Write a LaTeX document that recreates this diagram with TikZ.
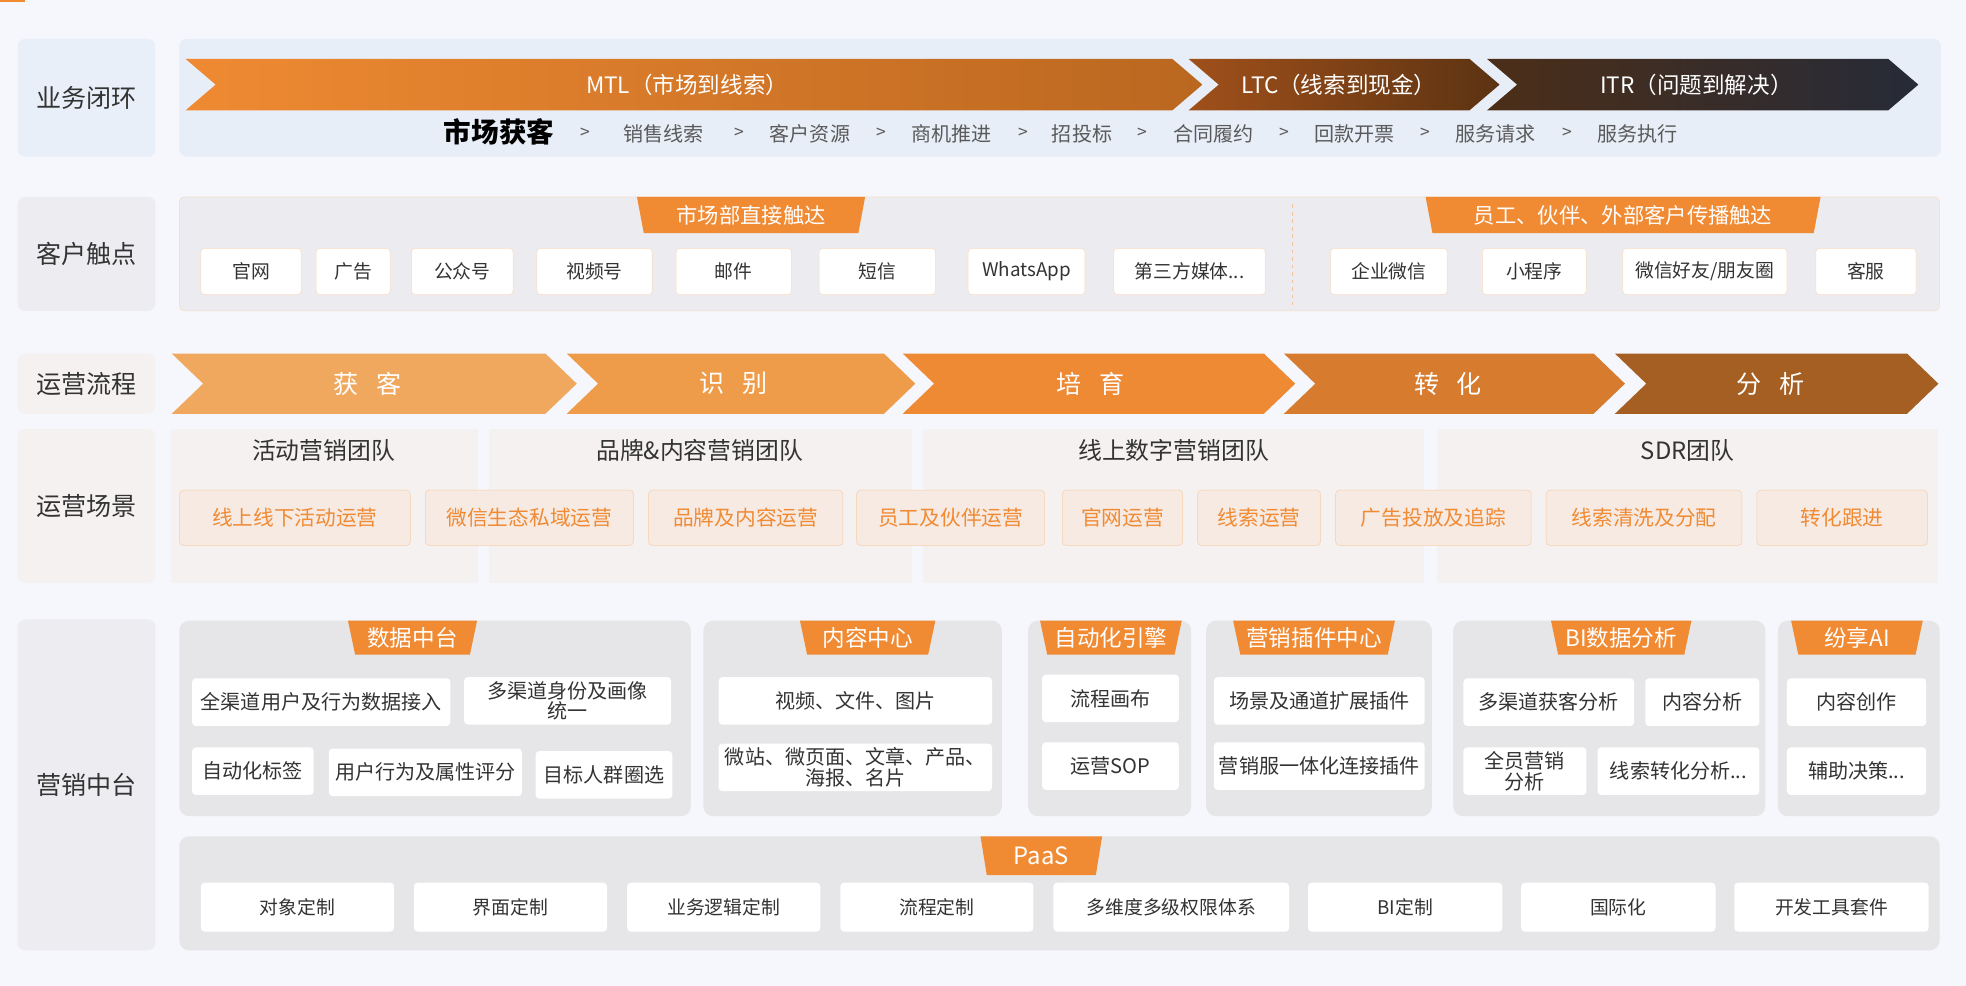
\documentclass[tikz,border=0pt]{standalone}
\usepackage{fontspec}
\setmainfont{Noto Sans CJK SC}
\usetikzlibrary{shapes.geometric}
\definecolor{bg}{HTML}{F6F7FC}
\definecolor{ink}{HTML}{333333}
\definecolor{grey}{HTML}{5A5A5A}
\definecolor{orng}{HTML}{F08A33}
\definecolor{labblue}{HTML}{E9EFF8}
\definecolor{labgrey}{HTML}{EDEDF1}
\definecolor{labwarm}{HTML}{F5F1F0}
\definecolor{loopbg}{HTML}{E8EEF8}
\definecolor{touchbg}{HTML}{ECECF0}
\definecolor{edge}{HTML}{F8DCC0}
\definecolor{scenbg}{HTML}{F7EAE3}
\definecolor{scenedge}{HTML}{F6CFA5}
\definecolor{platbg}{HTML}{E6E6E8}
\definecolor{c1}{HTML}{EF8A32}
\definecolor{c2}{HTML}{BA6720}
\definecolor{c3}{HTML}{A0501A}
\definecolor{c4}{HTML}{5C3312}
\definecolor{c5}{HTML}{4C2E18}
\definecolor{c6}{HTML}{262B38}
\definecolor{f1}{HTML}{F0A85E}
\definecolor{f2}{HTML}{EF9C4A}
\definecolor{f3}{HTML}{EE8934}
\definecolor{f4}{HTML}{D77B2F}
\definecolor{f5}{HTML}{A65F23}
\newcommand\mdots{...}

\begin{document}
\begin{tikzpicture}[x=1pt,y=-1pt,
    lbl/.style={rounded corners=6pt,minimum width=110,text=ink,font=\fontsize{20}{22}\selectfont},
    item/.style={rounded corners=3pt,fill=white,anchor=west,inner sep=1pt,text=ink,font=\fontsize{15}{17}\selectfont},
    tbox/.style={item,draw=edge,minimum height=37},
    scen/.style={item,fill=scenbg,draw=scenedge,text=orng,minimum height=44,font=\fontsize{16.5}{18}\selectfont},
    pbox/.style={item,minimum height=38,align=center,font=\fontsize{16}{16.5}\selectfont},
    tab/.style={trapezium,trapezium angle=73,shape border rotate=180,trapezium stretches body,
      fill=orng,text=white,inner sep=1pt,font=\fontsize{18}{20}\selectfont},
    chevtxt/.style={text=white,font=\fontsize{20}{22}\selectfont},
    stage/.style={text=grey,font=\fontsize{16}{18}\selectfont}]
  \fill[bg] (0,0) rectangle (1568,786);
  \useasboundingbox (0,0) rectangle (1568,786);
  \fill[orng] (0,0) rectangle (20,1.5);

  % business loop
  \node[lbl,fill=labblue,minimum height=94] (lloop) at (69,78) {业务闭环};
  \fill[loopbg,rounded corners=6pt] (143,31) rectangle (1548,125);
  \foreach \a/\b/\l/\r in {148/935/c1/c2, 948/1172/c3/c4, 1186/1506/c5/c6}
    \shade[left color=\l,right color=\r] (\a,47) -- (\b,47) -- (\b+24,67.5) -- (\b,88) -- (\a,88) -- (\a+24,67.5) -- cycle;
  \node[chevtxt,font=\fontsize{18}{20}\selectfont] (mtl) at (548,68) {MTL（市场到线索）};
  \node[chevtxt,font=\fontsize{18}{20}\selectfont] (ltc) at (1068,68) {LTC（线索到现金）};
  \node[chevtxt,font=\fontsize{18}{20}\selectfont] (itr) at (1353,68) {ITR（问题到解决）};
  \node[text=black,font=\bfseries\fontsize{22}{24}\selectfont] (s0) at (398,105) {市场获客};
  \foreach \x/\t [count=\i] in {529/销售线索, 646/客户资源, 759/商机推进, 863/招投标, 968/合同履约, 1080/回款开票, 1193/服务请求, 1306/服务执行}
    \node[stage] (s\i) at (\x,107) {\t};
  \foreach \x [count=\i] in {467,590,703,816,911,1024,1137,1250}
    \node[stage,font=\fontsize{14}{16}\selectfont] (gt\i) at (\x,106) {>};

  % touch points
  \node[lbl,fill=labgrey,minimum height=91] (ltouch) at (69,202.5) {客户触点};
  \filldraw[fill=touchbg,draw=edge,rounded corners=4pt] (143,157) rectangle (1547,248);
  \draw[edge!70!orng,dashed] (1031,163) -- (1031,243);
  \node[tab,minimum width=182,minimum height=29,font=\fontsize{17}{19}\selectfont] (tdirect) at (599,171.5) {市场部直接触达};
  \node[tab,minimum width=315,minimum height=29,font=\fontsize{17}{19}\selectfont] (tspread) at (1294.5,171.5) {员工、伙伴、外部客户传播触达};
  \foreach \x/\w/\t [count=\i] in {160/80/官网, 252/59/广告, 328/81/公众号, 428/92/视频号, 539/92/邮件, 653/93/短信, 772/93/WhatsApp, 888/121/第三方媒体\mdots, 1061/93/企业微信, 1182/83/小程序, 1294/131/{微信好友/朋友圈}, 1448/80/客服}
    \node[tbox,minimum width=\w] (tp\i) at (\x,216.5) {\t};

  % operation flow
  \node[lbl,fill=labwarm,minimum height=48] (lflow) at (69,306) {运营流程};
  \foreach \a/\b/\c/\m/\t [count=\i] in {137/435/f1/293/获\hspace{.7em}客, 452/705/f2/585/识\hspace{.7em}别, 720/1008/f3/870/培\hspace{.7em}育, 1024/1271/f4/1155/转\hspace{.7em}化, 1288/1521/f5/1412/分\hspace{.7em}析}
  {
    \fill[\c] (\a,282) -- (\b,282) -- (\b+25,306) -- (\b,330) -- (\a,330) -- (\a+25,306) -- cycle;
    \node[chevtxt] (fl\i) at (\m,306) {\t};
  }

  % operation scenes
  \node[lbl,fill=labwarm,minimum height=123] (lscene) at (69,403.5) {运营场景};
  \foreach \a/\b/\m/\t [count=\i] in {136/381/258/活动营销团队, 390/727/558/品牌\&内容营销团队, 736/1136/936/线上数字营销团队, 1146/1546/1346/SDR团队}
  {
    \fill[labwarm] (\a,342) rectangle (\b,465);
    \node[text=ink,font=\fontsize{19}{21}\selectfont] (team\i) at (\m,359) {\t};
  }
  \foreach \x/\w/\t [count=\i] in {143/184/线上线下活动运营, 339/166/微信生态私域运营, 517/155/品牌及内容运营, 683/150/员工及伙伴运营, 847/96/官网运营, 955/98/线索运营, 1065/156/广告投放及追踪, 1233/156/线索清洗及分配, 1401/136/转化跟进}
    \node[scen,minimum width=\w] (sc\i) at (\x,413) {\t};

  % marketing platform
  \node[lbl,fill=labgrey,minimum height=264] (lplat) at (69,626) {营销中台};
  \foreach \a/\b/\m/\w/\t [count=\i] in {143/551/329/103/数据中台, 561/799/692/108/内容中心, 820/950/886/113/自动化引擎, 962/1142/1048/129/营销插件中心, 1159/1408/1293/112/BI数据分析, 1418/1547/1481/105/纷享AI}
  {
    \fill[platbg,rounded corners=8pt] (\a,495) rectangle (\b,651);
    \node[tab,minimum width=\w,minimum height=27] (pt\i) at (\m,508.5) {\t};
  }
  \foreach \x/\v/\w/\t [count=\i] in {153/560/206/全渠道用户及行为数据接入, 370/559/165/{多渠道身份及画像\\统一}, 153/615/97/自动化标签, 262/616/154/用户行为及属性评分, 427/618/109/目标人群圈选,
      573/559/218/视频、文件、图片, 573/612/218/{微站、微页面、文章、产品、\\海报、名片},
      831/557/109/流程画布, 831/611/109/运营SOP,
      968/559/168/场景及通道扩展插件, 968/611/168/营销服一体化连接插件,
      1167/560/136/多渠道获客分析, 1312/560/91/内容分析, 1167/615/98/{全员营销\\分析}, 1274/615/129/线索转化分析\mdots,
      1425/560/111/内容创作, 1425/615/111/辅助决策\mdots}
    \node[pbox,minimum width=\w] (pi\i) at (\x,\v) {\t};
  \fill[platbg,rounded corners=8pt] (143,667) rectangle (1547,758);
  \node[tab,minimum width=97,minimum height=31,font=\fontsize{19}{21}\selectfont] (paas) at (830.5,682.5) {PaaS};
  \foreach \x/\w/\t [count=\i] in {160/154/对象定制, 330/154/界面定制, 500/154/业务逻辑定制, 670/154/流程定制, 840/188/多维度多级权限体系, 1043/155/BI定制, 1213/155/国际化, 1383/155/开发工具套件}
    \node[pbox,minimum width=\w,minimum height=39,font=\fontsize{15}{17}\selectfont] (pa\i) at (\x,723.5) {\t};
\end{tikzpicture}
\end{document}
